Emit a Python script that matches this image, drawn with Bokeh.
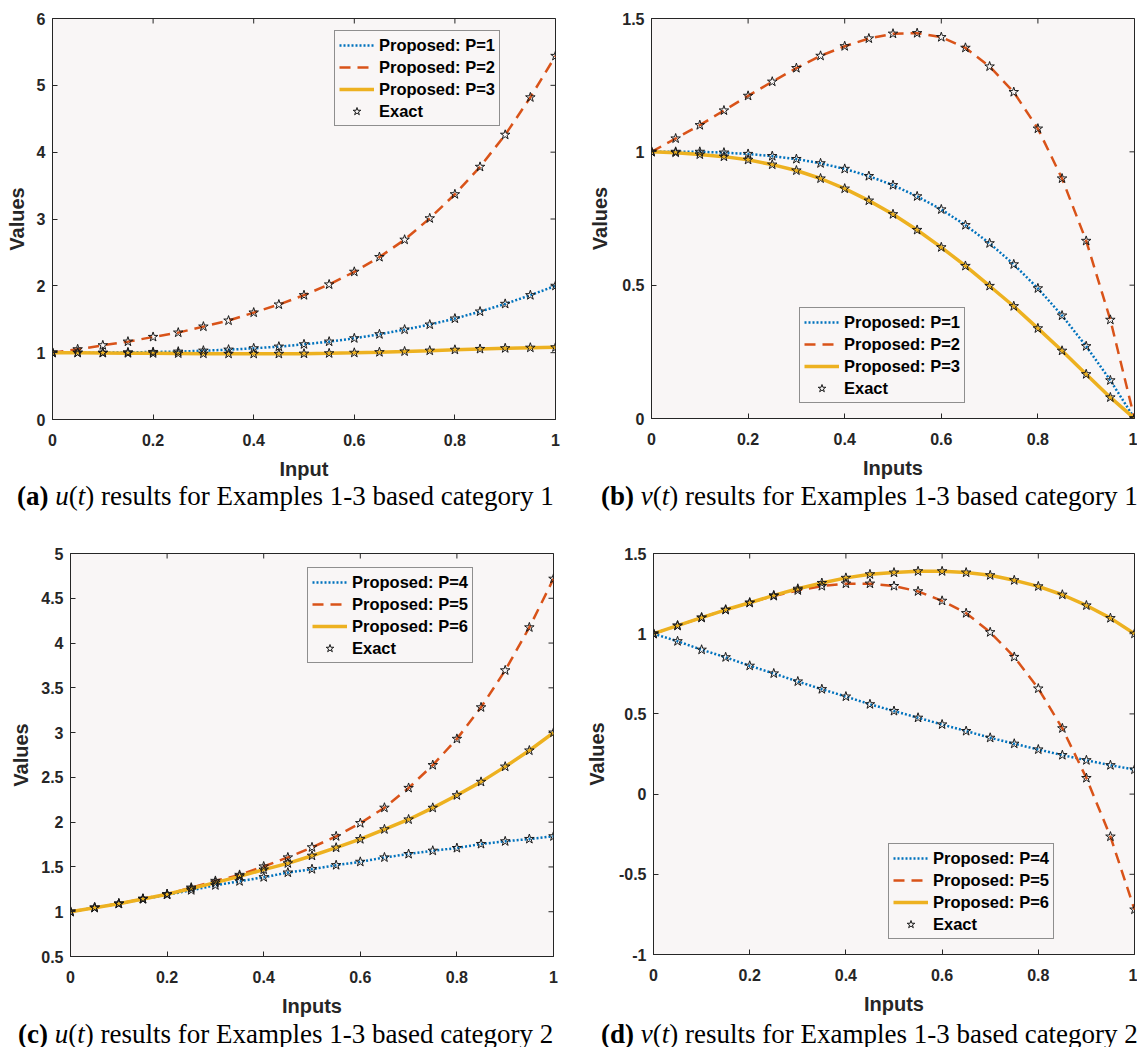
from math import pi

from bokeh.plotting import figure
from bokeh.models import (Range1d, FixedTicker, NumeralTickFormatter,
                          Legend, LegendItem, Div)
from bokeh.layouts import row, column
from bokeh.embed import file_html
from bokeh.resources import INLINE

# inputs t
t = [0.0, 0.05, 0.1, 0.15, 0.2, 0.25, 0.3, 0.35, 0.4, 0.45, 0.5,
     0.55, 0.6, 0.65, 0.7, 0.75, 0.8, 0.85, 0.9, 0.95, 1.0]

# (a) u(t), category 1
u1_p1 = [1.0, 1.0, 1.0, 1.005, 1.01, 1.015, 1.03, 1.045, 1.065, 1.09, 1.125,
         1.165, 1.215, 1.275, 1.345, 1.42, 1.51, 1.615, 1.73, 1.86, 2.0]
u1_p2 = [1.0, 1.05, 1.11, 1.165, 1.235, 1.30, 1.39, 1.48, 1.60, 1.72, 1.86,
         2.02, 2.21, 2.43, 2.69, 3.01, 3.37, 3.78, 4.26, 4.82, 5.44]
u1_p3 = [1.0, 0.998, 0.995, 0.992, 0.99, 0.988, 0.985, 0.983, 0.982, 0.982, 0.985,
         0.99, 0.998, 1.007, 1.018, 1.03, 1.043, 1.055, 1.066, 1.074, 1.08]

# (b) v(t), category 1
v1_p1 = [1.0, 1.0, 1.0, 0.997, 0.992, 0.984, 0.973, 0.957, 0.936, 0.909, 0.875,
         0.833, 0.784, 0.725, 0.657, 0.578, 0.488, 0.386, 0.271, 0.143, 0.0]
v1_p2 = [1.0, 1.05, 1.10, 1.155, 1.21, 1.263, 1.314, 1.36, 1.396, 1.425, 1.443,
         1.445, 1.43, 1.39, 1.32, 1.224, 1.087, 0.90, 0.666, 0.37, 0.0]
v1_p3 = [1.0, 0.997, 0.99, 0.982, 0.97, 0.952, 0.93, 0.9, 0.862, 0.817, 0.766,
         0.707, 0.642, 0.572, 0.497, 0.421, 0.338, 0.254, 0.166, 0.079, 0.0]

# (c) u(t), category 2
u2_p4 = [1.0, 1.045, 1.09, 1.14, 1.19, 1.24, 1.295, 1.34, 1.385, 1.437, 1.475,
         1.52, 1.557, 1.606, 1.644, 1.681, 1.711, 1.756, 1.786, 1.812, 1.842]
u2_p5 = [1.0, 1.045, 1.089, 1.145, 1.194, 1.269, 1.344, 1.411, 1.505, 1.606, 1.719,
         1.842, 1.989, 2.161, 2.382, 2.637, 2.93, 3.282, 3.695, 4.175, 4.718]
u2_p6 = [1.0, 1.045, 1.09, 1.143, 1.195, 1.26, 1.325, 1.395, 1.47, 1.54, 1.625,
         1.715, 1.81, 1.92, 2.03, 2.16, 2.30, 2.45, 2.62, 2.80, 3.0]

# (d) v(t), category 2
v2_p4 = [1.0, 0.953, 0.90, 0.853, 0.80, 0.752, 0.702, 0.654, 0.608, 0.56, 0.518,
         0.476, 0.434, 0.393, 0.351, 0.314, 0.278, 0.243, 0.211, 0.18, 0.153]
v2_p5 = [1.0, 1.05, 1.10, 1.149, 1.193, 1.235, 1.27, 1.297, 1.312, 1.312, 1.297,
         1.264, 1.205, 1.128, 1.009, 0.855, 0.658, 0.41, 0.10, -0.265, -0.72]
v2_p6 = [1.0, 1.05, 1.10, 1.149, 1.193, 1.239, 1.28, 1.316, 1.348, 1.37, 1.381,
         1.389, 1.389, 1.381, 1.364, 1.333, 1.295, 1.243, 1.176, 1.097, 1.0]

x_ticks = [0, 0.2, 0.4, 0.6, 0.8, 1]
a_ticks = [0, 1, 2, 3, 4, 5, 6]
b_ticks = [0, 0.5, 1, 1.5]
c_ticks = [0.5, 1, 1.5, 2, 2.5, 3, 3.5, 4, 4.5, 5]
d_ticks = [-1, -0.5, 0, 0.5, 1, 1.5]

labels_1 = ["Proposed: P=1", "Proposed: P=2", "Proposed: P=3", "Exact"]
labels_2 = ["Proposed: P=4", "Proposed: P=5", "Proposed: P=6", "Exact"]

captions = [
    "<b>(a)</b> <i>u</i>(<i>t</i>) results for Examples 1-3 based category 1",
    "<b>(b)</b> <i>v</i>(<i>t</i>) results for Examples 1-3 based category 1",
    "<b>(c)</b> <i>u</i>(<i>t</i>) results for Examples 1-3 based category 2",
    "<b>(d)</b> <i>v</i>(<i>t</i>) results for Examples 1-3 based category 2",
]

BLUE = "#0072BD"
RED = "#D95319"
YELLOW = "#EDB120"
INK = "#262626"
BG = "#F9F6F6"
SANS = "Liberation Sans"


def style_axis(ax, ticks):
    ax.ticker = FixedTicker(ticks=ticks)
    ax.formatter = NumeralTickFormatter(format="0.[0]")
    ax.major_tick_in = 5
    ax.major_tick_out = 0
    ax.minor_tick_line_color = None
    ax.axis_line_color = INK
    ax.major_tick_line_color = INK
    ax.major_label_text_font = SANS
    ax.major_label_text_font_style = "bold"
    ax.major_label_text_font_size = "16px"
    ax.major_label_text_color = INK
    ax.axis_label_text_font = SANS
    ax.axis_label_text_font_style = "bold"
    ax.axis_label_text_font_size = "20px"
    ax.axis_label_text_color = INK


def panel(s1, s2, s3, names, yr, yticks, xlabel, fw, fh, left, right, top, leg_xy, ylab_off):
    p = figure(frame_width=fw, frame_height=fh, x_range=Range1d(0, 1), y_range=Range1d(*yr),
               min_border_left=left, min_border_right=right, min_border_top=top,
               min_border_bottom=62, output_backend="svg", toolbar_location=None,
               background_fill_color=BG, border_fill_color="white",
               outline_line_color=INK)
    p.grid.visible = False

    style_axis(p.xaxis[0], x_ticks)
    p.xaxis[0].axis_label = xlabel
    p.xaxis[0].major_label_standoff = 14
    p.xaxis[0].axis_label_standoff = 9
    style_axis(p.yaxis[0], yticks)
    p.yaxis[0].axis_label = "Values"
    p.yaxis[0].major_label_standoff = 7
    p.yaxis[0].axis_label_standoff = ylab_off

    # inward ticks on the top and right edges of the box
    p.scatter(x_ticks, [yr[1]] * len(x_ticks), marker="dash", angle=pi / 2,
              size=10, line_color=INK, line_width=1)
    p.scatter([1] * len(yticks), yticks, marker="dash", size=10,
              line_color=INK, line_width=1)

    r1 = p.line(t, s1, line_color=BLUE, line_width=2.5, line_dash="2 2")
    r2 = p.line(t, s2, line_color=RED, line_width=2.5, line_dash="11 7")
    r3 = p.line(t, s3, line_color=YELLOW, line_width=3.5)
    stars = [p.scatter(t, s, marker="star", size=10, fill_color=None,
                       line_color="#1a1a1a", line_width=1) for s in (s1, s2, s3)]

    items = [LegendItem(label=names[0], renderers=[r1]),
             LegendItem(label=names[1], renderers=[r2]),
             LegendItem(label=names[2], renderers=[r3]),
             LegendItem(label=names[3], renderers=[stars[0]])]
    leg = Legend(items=items, location=leg_xy, orientation="vertical",
                 border_line_color=INK, border_line_width=1,
                 background_fill_color=BG, background_fill_alpha=1,
                 label_text_font=SANS, label_text_font_style="bold",
                 label_text_font_size="16.5px", label_text_color="black",
                 glyph_width=35, glyph_height=20, label_height=20,
                 spacing=2, padding=4, label_standoff=5, margin=0)
    p.add_layout(leg)
    return p


def caption(html, width, height, pad_left, pad_top):
    return Div(text='<div style="font-family:\'Liberation Serif\';font-size:27px;'
                    'line-height:30px;white-space:nowrap;color:black;'
                    'padding-left:%dpx;padding-top:%dpx">%s</div>' % (pad_left, pad_top, html),
               width=width, height=height, margin=0, styles={"overflow": "hidden"})


pa = panel(u1_p1, u1_p2, u1_p3, labels_1, (0, 6), a_ticks, "Input",
           503, 401, 52, 25, 17, (282, 293), 6)
pb = panel(v1_p1, v1_p2, v1_p3, labels_1, (0, 1.5), b_ticks, "Inputs",
           483, 400, 71, 3, 18, (148, 15), 8)
pc = panel(u2_p4, u2_p5, u2_p6, labels_2, (0.5, 5), c_ticks, "Inputs",
           483, 403, 70, 27, 36, (237, 293), 6)
pd = panel(v2_p4, v2_p5, v2_p6, labels_2, (-1, 1.5), d_ticks, "Inputs",
           481, 401, 73, 3, 38, (235, 15), 8)

ca = caption(captions[0], 580, 34, 17, 0)
cb = caption(captions[1], 557, 34, 21, 0)
cc = caption(captions[2], 580, 32, 18, 2)
cd = caption(captions[3], 557, 32, 21, 2)

layout = column(row(pa, pb), row(ca, cb), row(pc, pd), row(cc, cd))

open("out.html", "w").write(file_html(layout, INLINE))
